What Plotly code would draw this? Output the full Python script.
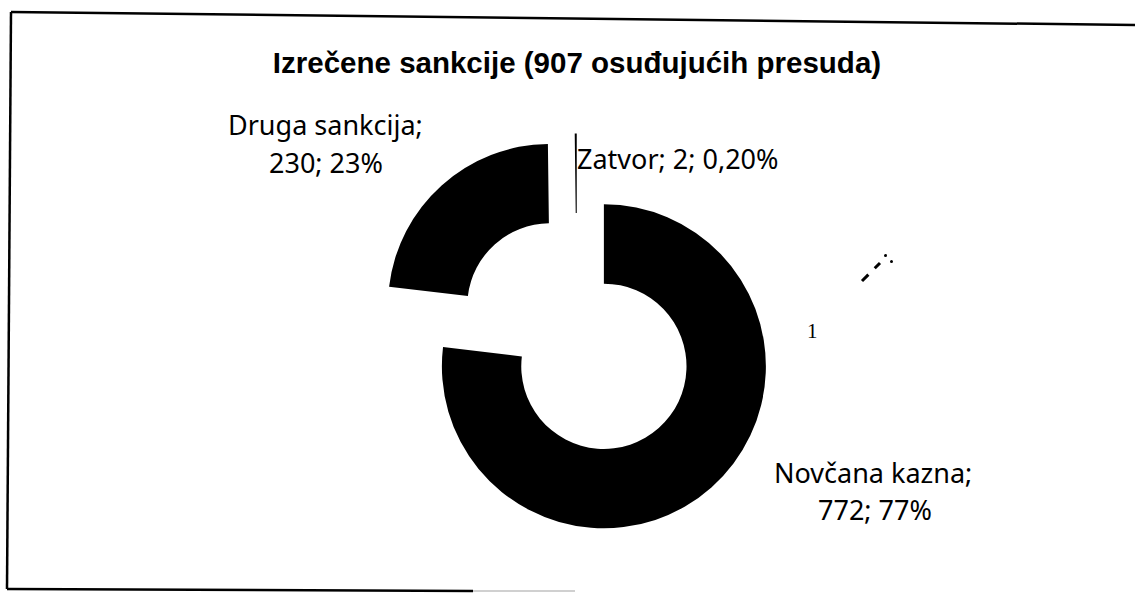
import plotly.graph_objects as go

# ---------------- data ----------------
categories = ["Novčana kazna", "Druga sankcija", "Zatvor"]
counts = [772, 230, 2]
percent_labels = ["77%", "23%", "0,20%"]
slice_colors = ["#000000", "#000000", "#000000"]
title_text = "Izrečene sankcije (907 osuđujućih presuda)"

# ---------------- layout helpers (pixels -> paper) ----------------
W, H = 1135, 593


def px(x):
    return x / W


def py(y):
    return 1 - y / H


# pie box: centre (577, 336), outer radius 162, pull 0.25 -> half box 202.5
cx, cy, half = 577, 336, 202.5

fig = go.Figure()
fig.add_trace(go.Pie(
    labels=categories,
    values=counts,
    sort=False,
    direction="clockwise",
    rotation=0,
    hole=0.51,
    pull=[0.25, 0.25, 0.25],
    marker=dict(colors=slice_colors, line=dict(width=0)),
    textinfo="none",
    hoverinfo="label+value+percent",
    showlegend=False,
    domain=dict(x=[px(cx - half), px(cx + half)], y=[py(cy + half), py(cy - half)]),
))

label_font = dict(family="Noto Sans", size=27, color="#000000")

# label texts built from data
lab_novcana_1 = f"{categories[0]};"
lab_novcana_2 = f"{counts[0]}; {percent_labels[0]}"
lab_druga_1 = f"{categories[1]};"
lab_druga_2 = f"{counts[1]}; {percent_labels[1]}"
lab_zatvor = f"{categories[2]}; {counts[2]}; {percent_labels[2]}"

annotations = [
    dict(text=lab_druga_1, x=px(325), y=py(125), xanchor="center", yanchor="middle"),
    dict(text=lab_druga_2, x=px(326), y=py(162), xanchor="center", yanchor="middle"),
    dict(text=lab_zatvor, x=px(575), y=py(158), xanchor="left", yanchor="middle"),
    dict(text=lab_novcana_1, x=px(873), y=py(472), xanchor="center", yanchor="middle"),
    dict(text=lab_novcana_2, x=px(875), y=py(509), xanchor="center", yanchor="middle"),
]
for a in annotations:
    a.update(xref="paper", yref="paper", showarrow=False, font=label_font)

# stray mark "1" from the scan
annotations.append(dict(text="1", x=px(812), y=py(331), xref="paper", yref="paper",
                        xanchor="center", yanchor="middle", showarrow=False,
                        font=dict(family="Liberation Serif", size=21, color="#000000")))

line_black = dict(color="#000000", width=2.5)
shapes = [
    # frame (slightly skewed scan)
    dict(type="line", x0=px(11), y0=py(12), x1=px(1135), y1=py(25), line=line_black),
    dict(type="line", x0=px(11), y0=py(12), x1=px(7), y1=py(589), line=line_black),
    dict(type="line", x0=px(7), y0=py(589), x1=px(473), y1=py(591), line=line_black),
    dict(type="line", x0=px(473), y0=py(591), x1=px(575), y1=py(591),
         line=dict(color="#d0d0d0", width=2)),
    # small scan marks
    dict(type="line", x0=px(862), y0=py(281), x1=px(880), y1=py(263),
         line=dict(color="#000000", width=3, dash="dash")),
    dict(type="circle", x0=px(884), y0=py(254), x1=px(887), y1=py(257),
         fillcolor="#000000", line=dict(width=0)),
    dict(type="circle", x0=px(890), y0=py(260), x1=px(893), y1=py(263),
         fillcolor="#000000", line=dict(width=0)),
]

fig.update_layout(
    width=W, height=H, autosize=False,
    margin=dict(l=0, r=0, t=0, b=0),
    paper_bgcolor="#ffffff", plot_bgcolor="#ffffff",
    title=dict(text=f"<b>{title_text}</b>", x=px(577), y=py(63),
               xanchor="center", yanchor="middle", xref="paper", yref="paper",
               font=dict(family="Liberation Sans", size=29.5, color="#000000")),
    annotations=annotations,
    shapes=shapes,
)

fig.write_html("out.html",
               config={"displayModeBar": False},
               post_script="document.body.style.margin='0';document.body.style.padding='0';")
